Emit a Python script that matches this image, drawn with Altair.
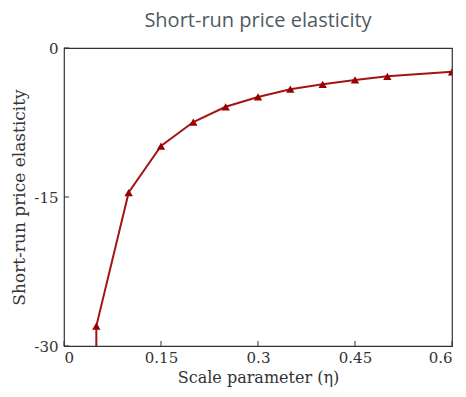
import altair as alt
import pandas as pd

eta = [0.05, 0.05, 0.10, 0.15, 0.20, 0.25, 0.30, 0.35, 0.40, 0.45, 0.50, 0.60]
elasticity = [-45.0, -28.0, -14.55, -9.87, -7.45, -5.92, -4.93, -4.15, -3.65, -3.22, -2.85, -2.40]
show_marker = [False, True, True, True, True, True, True, True, True, True, True, True]
x_ticks = [0, 0.15, 0.3, 0.45, 0.6]
y_ticks = [-30, -15, 0]

df = pd.DataFrame({"eta": eta, "e": elasticity, "m": show_marker, "i": list(range(len(eta)))})
W, H = 388, 298

xs = alt.Scale(domain=[0, 0.6], nice=False, zero=False)
ys = alt.Scale(domain=[-30, 0], nice=False, zero=False)

serif = "DejaVu Serif"

base = alt.Chart(df)
line = base.mark_line(color="#a31515", strokeWidth=2, clip=True).encode(
    x=alt.X("eta:Q", scale=xs, title="Scale parameter (η)",
            axis=alt.Axis(values=x_ticks, labelPadding=4, titlePadding=4,
                          labelFont=serif, titleFont=serif, titleFontSize=16)),
    y=alt.Y("e:Q", scale=ys, title="Short-run price elasticity",
            axis=alt.Axis(values=y_ticks, labelPadding=6, titlePadding=5,
                          labelFont=serif, titleFont=serif, titleFontSize=17)),
    order="i:Q",
)
pts = base.transform_filter("datum.m").mark_point(
    shape="triangle-up", filled=True, color="#990000", size=70, opacity=1, clip=True
).encode(x=alt.X("eta:Q", scale=xs), y=alt.Y("e:Q", scale=ys))

xt = pd.DataFrame({"v": x_ticks})
yt = pd.DataFrame({"v": y_ticks})
xtick = alt.Chart(xt).mark_rule(color="#333333", strokeWidth=1).encode(
    x=alt.X("v:Q", scale=xs), y=alt.value(H), y2=alt.value(H - 5))
ytick = alt.Chart(yt).mark_rule(color="#333333", strokeWidth=1).encode(
    y=alt.Y("v:Q", scale=ys), x=alt.value(0), x2=alt.value(5))

chart = alt.layer(line, pts, xtick, ytick).properties(
    width=W, height=H,
    title=alt.TitleParams("Short-run price elasticity", font="Open Sans", fontSize=20,
                          fontWeight="normal", color="#4f5b5f", anchor="middle", offset=10),
    autosize=alt.AutoSizeParams(type="none"),
    padding={"left": 56, "top": 40, "right": 6, "bottom": 43},
).configure_view(stroke="#333333", strokeWidth=1.2).configure_axis(
    labelFont=serif, labelFontSize=15, labelColor="#333333",
    titleFont=serif, titleFontWeight="normal", titleColor="#333333",
    ticks=False, grid=False, domain=False, labelExpr="'' + datum.value",
)

chart.save("out.html", embed_options={"renderer": "svg", "actions": False})
